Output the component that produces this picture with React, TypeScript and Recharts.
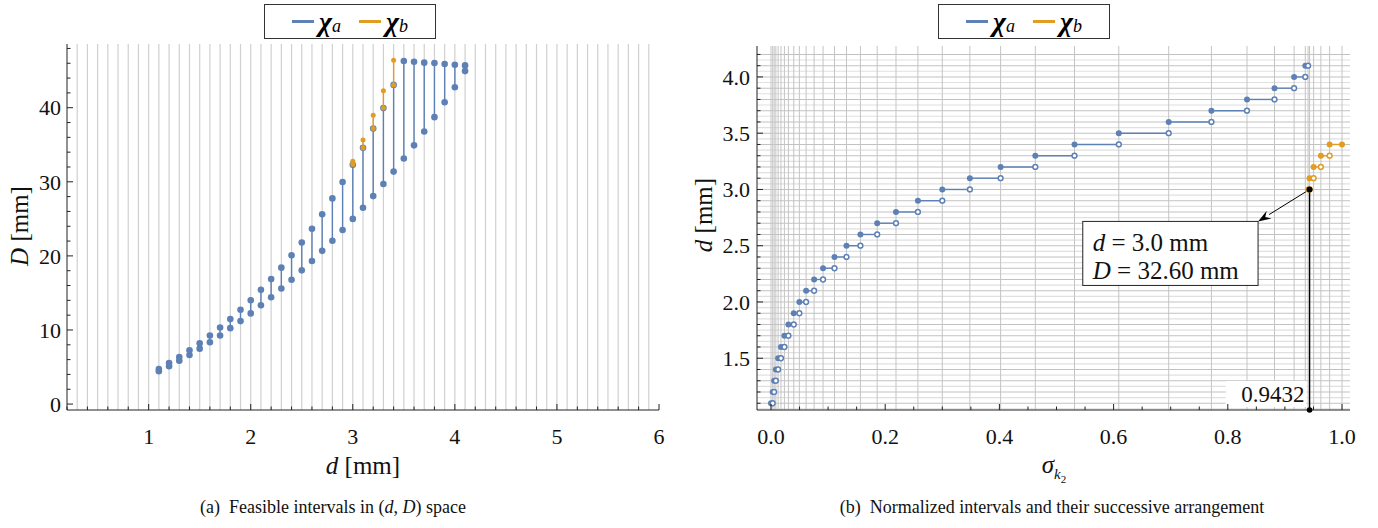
import React from 'react';
import { ComposedChart, Scatter, XAxis, YAxis, ReferenceLine, ReferenceDot } from 'recharts';

const BLUE = '#5e81b5';
const ORANGE = '#e19c24';
const SERIF = "'Liberation Serif', 'Times New Roman', 'DejaVu Serif', serif";

// wire diameters d [mm]
const dValues = [1.1, 1.2, 1.3, 1.4, 1.5, 1.6, 1.7, 1.8, 1.9, 2.0, 2.1, 2.2, 2.3, 2.4, 2.5, 2.6, 2.7, 2.8, 2.9, 3.0, 3.1, 3.2, 3.3, 3.4, 3.5, 3.6, 3.7, 3.8, 3.9, 4.0, 4.1];
// chi_a intervals of D [mm]
const blueDMin = [4.44, 5.12, 5.85, 6.62, 7.48, 8.34, 9.25, 10.25, 11.2, 12.24, 13.33, 14.42, 15.6, 16.78, 18.05, 19.32, 20.68, 22.04, 23.49, 24.99, 26.49, 28.07, 29.7, 31.38, 33.15, 34.92, 36.78, 38.73, 40.73, 42.77, 44.94];
const blueDMax = [4.72, 5.53, 6.35, 7.26, 8.21, 9.25, 10.34, 11.47, 12.74, 14.01, 15.42, 16.87, 18.41, 20.09, 21.81, 23.67, 25.62, 27.76, 29.98, 32.29, 34.6, 37.19, 39.95, 43.08, 46.3, 46.21, 46.08, 46.03, 45.9, 45.8, 45.71];
// chi_b intervals
const orangeD = [3.0, 3.1, 3.2, 3.3, 3.4];
const orangeDMin = [32.34, 34.6, 37.19, 39.95, 43.08];
const orangeDMax = [32.79, 35.65, 39.0, 42.3, 46.4];

// normalized intervals (panel b)
const blueSigmaStart = [0, 0.003, 0.0055, 0.0085, 0.0125, 0.0175, 0.0235, 0.0305, 0.0399, 0.0497, 0.0615, 0.0755, 0.0912, 0.1112, 0.1322, 0.1566, 0.186, 0.2189, 0.2573, 0.3, 0.3483, 0.4021, 0.4629, 0.5315, 0.6091, 0.6965, 0.7713, 0.8336, 0.8818, 0.9161, 0.9357];
const blueSigmaEnd = [0.003, 0.0055, 0.0085, 0.0125, 0.0175, 0.0235, 0.0305, 0.0399, 0.0497, 0.0615, 0.0755, 0.0912, 0.1112, 0.1322, 0.1566, 0.186, 0.2189, 0.2573, 0.3, 0.3483, 0.4021, 0.4629, 0.5315, 0.6091, 0.6965, 0.7713, 0.8336, 0.8818, 0.9161, 0.9357, 0.9406];
const orangeSigmaStart = [0.9406, 0.9432, 0.9503, 0.963, 0.9783];
const orangeSigmaEnd = [0.9432, 0.9503, 0.963, 0.9783, 1.0];

const leftXTicks = [1, 2, 3, 4, 5, 6];
const leftYTicks = [0, 10, 20, 30, 40];
const rightXTicks = [0, 0.2, 0.4, 0.6, 0.8, 1.0];
const rightYTicks = [1.5, 2.0, 2.5, 3.0, 3.5, 4.0];
const seriesNames = ['a', 'b'];

// annotation
const markSigma = 0.9432;
const markD = 3.0;
const markDiam = '32.60';
const boxSigma = [0.546, 0.853];
const boxD = [2.147, 2.716];

const LX = [0.2, 6];
const LY = [-0.8, 48.6];
const RX = [-0.0245, 1.014];
const RY = [1.04, 4.275];

// grid lines and minor tick positions
const steps = (a: number, b: number, s: number) => Array.from({ length: Math.round((b - a) / s) + 1 }, (_, i) => +(a + i * s).toFixed(3));
const leftGrid = steps(0.3, 5.9, 0.1);
const rightHGrid = steps(1.05, 4.2, 0.05);
const rightVGrid = [...blueSigmaStart, ...orangeSigmaStart, 1.0];
const leftXAll = steps(0.2, 6, 0.2);
const leftYAll = steps(0, 48, 2);
const rightXAll = steps(0, 1, 0.05);
const rightYAll = steps(1.1, 4.2, 0.1);

const isMajor = (majors: number[], v: number) => majors.some(m => Math.abs(m - v) < 1e-6);

// custom ticks: inward tick marks (major long, minor short) + serif labels on majors
const makeTick = (side: 'bottom' | 'top' | 'left' | 'right', majors: number[], margin: number, fmt?: (v: number) => string) => (p: any) => {
  const v = p.payload.value;
  const major = isMajor(majors, v);
  const len = major ? 6 : 3.5;
  const label = major && fmt ? fmt(v) : '';
  let line: React.ReactNode = null;
  let text: React.ReactNode = null;
  if (side === 'bottom') {
    const ay = p.y - (margin - 5);
    line = <line x1={p.x} x2={p.x} y1={ay} y2={ay - len} stroke="#222" />;
    if (label) text = <text x={p.x} y={p.y} dy="0.71em" textAnchor="middle" fontFamily={SERIF} fontSize={22} fill="#111">{label}</text>;
  } else if (side === 'top') {
    const ay = p.y - 5;
    line = <line x1={p.x} x2={p.x} y1={ay} y2={ay + len} stroke="#222" />;
  } else if (side === 'left') {
    const ax = p.x + margin - 5;
    line = <line x1={ax} x2={ax + len} y1={p.y} y2={p.y} stroke="#222" />;
    if (label) text = <text x={p.x} y={p.y} dy="0.35em" textAnchor="end" fontFamily={SERIF} fontSize={22} fill="#111">{label}</text>;
  } else {
    const ax = p.x + 5;
    line = <line x1={ax} x2={ax - len} y1={p.y} y2={p.y} stroke="#222" />;
  }
  return <g>{line}{text}</g>;
};

const fullDot = (color: string, r: number) => (p: any) => <circle cx={p.cx} cy={p.cy} r={r} fill={color} />;
const stepDot = (color: string, closedEnd: boolean) => (p: any) =>
  p.payload.end && !closedEnd
    ? <circle cx={p.cx} cy={p.cy} r={2.4} fill="#fff" stroke={color} strokeWidth={1.5} />
    : <circle cx={p.cx} cy={p.cy} r={3} fill={color} />;

const LegendBox = ({ left }: { left: number }) => (
  <div style={{ position: 'absolute', left, top: 4, width: 172, height: 35, border: '1px solid #333', background: '#fff', display: 'flex', alignItems: 'center', justifyContent: 'center', gap: 18, fontFamily: SERIF, boxSizing: 'border-box' }}>
    {seriesNames.map((s, i) => (
      <span key={s} style={{ display: 'flex', alignItems: 'center' }}>
        <span style={{ display: 'inline-block', width: 22, height: 2.5, background: i === 0 ? BLUE : ORANGE, marginRight: 5 }} />
        <span style={{ fontSize: 28, fontWeight: 'bold', fontStyle: 'italic', lineHeight: '28px' }}>χ</span>
        <span style={{ fontSize: 18, fontStyle: 'italic', marginTop: 10 }}>{s}</span>
      </span>
    ))}
  </div>
);

const txt = (extra: React.CSSProperties): React.CSSProperties => ({ position: 'absolute', fontFamily: SERIF, color: '#111', whiteSpace: 'nowrap', transform: 'translate(-50%, -50%)', ...extra });

const axisStroke = { stroke: '#222' };
const fmt1 = (v: number) => v.toFixed(1);
const fmt0 = (v: number) => String(v);

const LeftChart = () => (
  <ComposedChart width={689} height={470} margin={{ top: 44, right: 30, bottom: 30, left: 27 }} style={{ fontFamily: SERIF }}>
    {leftGrid.map(g => <ReferenceLine key={g} x={g} stroke="#d0d0d0" strokeWidth={1.2} />)}
    <XAxis type="number" dataKey="x" domain={LX} ticks={leftXAll} allowDataOverflow height={30} interval={0}
      tickSize={-5} tickMargin={23} tickLine={false} tick={makeTick('bottom', leftXTicks, 23, fmt0)} axisLine={axisStroke} />
    <XAxis xAxisId="top" orientation="top" type="number" dataKey="x" domain={LX} ticks={leftXAll} allowDataOverflow height={0} interval={0}
      tickSize={-5} tickMargin={0} tickLine={false} tick={makeTick('top', leftXTicks, 0)} axisLine={axisStroke} />
    <YAxis type="number" dataKey="y" domain={LY} ticks={leftYAll} allowDataOverflow width={40} interval={0}
      tickSize={-5} tickMargin={11} tickLine={false} tick={makeTick('left', leftYTicks, 11, fmt0)} axisLine={axisStroke} />
    <YAxis yAxisId="right" orientation="right" type="number" dataKey="y" domain={LY} ticks={leftYAll} allowDataOverflow width={0} interval={0}
      tickSize={-5} tickMargin={0} tickLine={false} tick={makeTick('right', leftYTicks, 0)} axisLine={axisStroke} />
    {dValues.map((d, i) => (
      <Scatter key={'a' + d} data={[{ x: d, y: blueDMin[i] }, { x: d, y: blueDMax[i] }]} line={{ stroke: BLUE, strokeWidth: 1.4 }}
        lineType="joint" shape={fullDot(BLUE, 3.3)} isAnimationActive={false} />
    ))}
    {orangeD.map((d, i) => (
      <Scatter key={'b' + d} data={[{ x: d, y: orangeDMin[i] }, { x: d, y: orangeDMax[i] }]} line={{ stroke: ORANGE, strokeWidth: 1.4 }}
        lineType="joint" shape={fullDot(ORANGE, 2.5)} isAnimationActive={false} />
    ))}
  </ComposedChart>
);

const RightChart = () => (
  <ComposedChart width={689} height={470} margin={{ top: 46, right: 28, bottom: 30, left: 28 }} style={{ fontFamily: SERIF }}>
    {rightHGrid.map((g, i) => <ReferenceLine key={'h' + g} y={g} stroke={i % 2 === 1 ? '#c2c2c2' : '#e0e0e0'} strokeWidth={1.1} />)}
    {rightVGrid.map((g, i) => <ReferenceLine key={'v' + i} x={g} stroke="#c4c4c4" strokeWidth={1} />)}
    <XAxis type="number" dataKey="x" domain={RX} ticks={rightXAll} allowDataOverflow height={30} interval={0}
      tickSize={-5} tickMargin={23} tickLine={false} tick={makeTick('bottom', rightXTicks, 23, fmt1)} axisLine={axisStroke} />
    <XAxis xAxisId="top" orientation="top" type="number" dataKey="x" domain={RX} ticks={rightXAll} allowDataOverflow height={0} interval={0}
      tickSize={-5} tickMargin={0} tickLine={false} tick={makeTick('top', rightXTicks, 0)} axisLine={axisStroke} />
    <YAxis type="number" dataKey="y" domain={RY} ticks={rightYAll} allowDataOverflow width={40} interval={0}
      tickSize={-5} tickMargin={12} tickLine={false} tick={makeTick('left', rightYTicks, 12, fmt1)} axisLine={axisStroke} />
    <YAxis yAxisId="right" orientation="right" type="number" dataKey="y" domain={RY} ticks={rightYAll} allowDataOverflow width={0} interval={0}
      tickSize={-5} tickMargin={0} tickLine={false} tick={makeTick('right', rightYTicks, 0)} axisLine={axisStroke} />
    {/* annotation box, drawn as a segment between its corners so it sits above the grid lines */}
    <ReferenceLine segment={[{ x: boxSigma[0], y: boxD[1] }, { x: boxSigma[1], y: boxD[0] }]} ifOverflow="visible"
      shape={(p: any) => (
        <g fontFamily={SERIF} fontSize={25} fill="#111">
          <rect x={p.x1} y={p.y1} width={p.x2 - p.x1} height={p.y2 - p.y1} fill="#fff" stroke="#222" strokeWidth={1} />
          <text x={p.x1 + 10} y={p.y1 + 30} stroke="none"><tspan fontStyle="italic">d</tspan> = {markD.toFixed(1)} mm</text>
          <text x={p.x1 + 10} y={p.y1 + 58} stroke="none"><tspan fontStyle="italic">D</tspan> = {markDiam} mm</text>
        </g>
      )} />
    <ReferenceLine segment={[{ x: markSigma, y: markD }, { x: markSigma, y: RY[0] }]} stroke="#000" strokeWidth={1.4} ifOverflow="visible" />
    <ReferenceLine segment={[{ x: markSigma, y: markD }, { x: boxSigma[1], y: boxD[1] }]} ifOverflow="visible"
      shape={(p: any) => {
        const ang = Math.atan2(p.y2 - p.y1, p.x2 - p.x1);
        const L = 13, W = 4.5;
        const bx = p.x2 - L * Math.cos(ang), by = p.y2 - L * Math.sin(ang);
        const nx = -Math.sin(ang) * W, ny = Math.cos(ang) * W;
        return (
          <g>
            <line x1={p.x1} y1={p.y1} x2={bx} y2={by} stroke="#000" strokeWidth={1} />
            <polygon points={`${p.x2},${p.y2} ${bx + nx},${by + ny} ${bx + 0.35 * L * Math.cos(ang)},${by + 0.35 * L * Math.sin(ang)} ${bx - nx},${by - ny}`} fill="#000" />
          </g>
        );
      }} />
    {dValues.map((d, i) => (
      <Scatter key={'a' + d} data={[{ x: blueSigmaStart[i], y: d }, { x: blueSigmaEnd[i], y: d, end: true }]}
        line={{ stroke: BLUE, strokeWidth: 1.4 }} lineType="joint" shape={stepDot(BLUE, false)} isAnimationActive={false} />
    ))}
    {orangeD.map((d, i) => (
      <Scatter key={'b' + d} data={[{ x: orangeSigmaStart[i], y: d }, { x: orangeSigmaEnd[i], y: d, end: true }]}
        line={{ stroke: ORANGE, strokeWidth: 1.4 }} lineType="joint" shape={stepDot(ORANGE, i === orangeD.length - 1)} isAnimationActive={false} />
    ))}
    <ReferenceDot x={markSigma} y={markD} r={3} fill="#000" stroke="none" ifOverflow="visible" />
    <ReferenceDot x={markSigma} y={RY[0]} r={3} ifOverflow="visible"
      shape={(p: any) => (
        <g>
          <rect x={p.cx - 84} y={p.cy - 29} width={81} height={26} fill="#fff" />
          <text x={p.cx - 5} y={p.cy - 8} textAnchor="end" fontFamily={SERIF} fontSize={23} fill="#111">{markSigma.toFixed(4)}</text>
          <circle cx={p.cx} cy={p.cy} r={2.8} fill="#000" />
        </g>
      )} />
  </ComposedChart>
);

export default function App() {
  return (
    <div style={{ position: 'absolute', left: 0, top: 0, width: 1378, height: 528, background: '#fff', overflow: 'hidden' }}>
      <div style={{ position: 'absolute', left: 0, top: 0 }}><LeftChart /></div>
      <div style={{ position: 'absolute', left: 689, top: 0 }}><RightChart /></div>
      <LegendBox left={264} />
      <LegendBox left={938} />
      <div style={txt({ left: 20, top: 226, fontSize: 25, transform: 'translate(-50%, -50%) rotate(-90deg)' })}><i>D</i> [mm]</div>
      <div style={txt({ left: 363, top: 466, fontSize: 25 })}><i>d</i> [mm]</div>
      <div style={txt({ left: 704, top: 215, fontSize: 25, transform: 'translate(-50%, -50%) rotate(-90deg)' })}><i>d</i> [mm]</div>
      <div style={txt({ left: 1054, top: 468, fontSize: 25 })}><i>σ</i><sub style={{ fontSize: 15 }}><i>k</i><sub style={{ fontSize: 11 }}>2</sub></sub></div>
      <div style={txt({ left: 333, top: 507, fontSize: 18 })}>(a)&nbsp; Feasible intervals in (<i>d</i>, <i>D</i>) space</div>
      <div style={txt({ left: 1052, top: 507, fontSize: 18 })}>(b)&nbsp; Normalized intervals and their successive arrangement</div>
    </div>
  );
}
